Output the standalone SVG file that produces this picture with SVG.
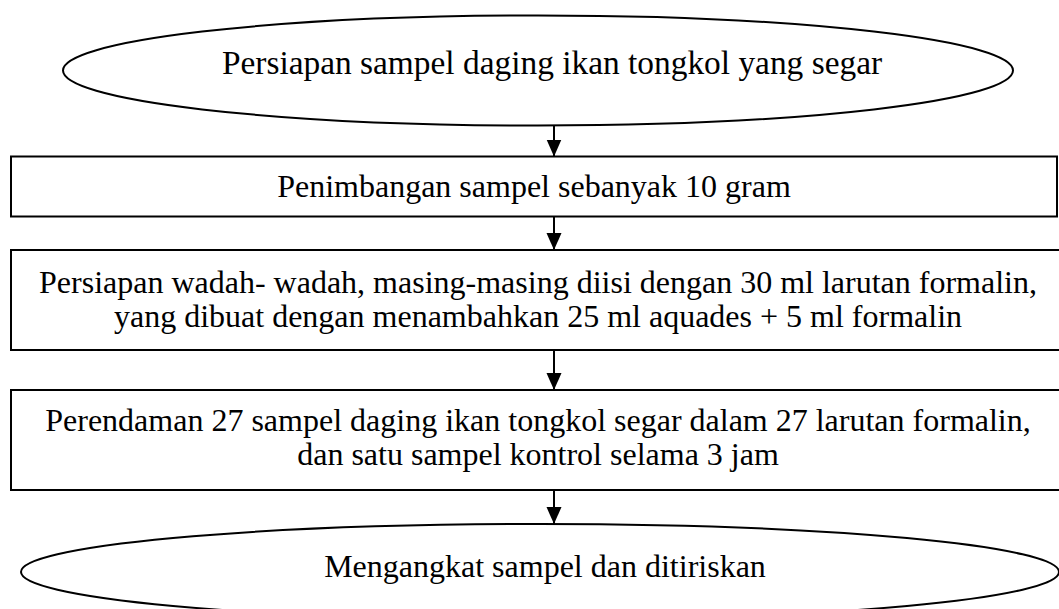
<svg xmlns="http://www.w3.org/2000/svg" width="1059" height="609" viewBox="0 0 1059 609">
<style>
.shape{fill:#fff;stroke:#000;stroke-width:2}
.lbl{font-family:"Liberation Serif","Times New Roman",serif;font-size:32px;fill:#000;text-anchor:middle}
.conn{stroke:#000;stroke-width:2;fill:none}
</style>
<defs>
<marker id="arr" markerWidth="16" markerHeight="17" refX="17" refY="7.5" orient="auto" markerUnits="userSpaceOnUse">
<path d="M0,0 L17,7.5 L0,15 Z" fill="#000"/>
</marker>
</defs>
<rect width="1059" height="609" fill="#fff"/>
<g id="node1">
<ellipse class="shape" cx="538" cy="70.5" rx="475" ry="55"/>
<text class="lbl" x="552" y="74" style="font-size:33.4px">Persiapan sampel daging ikan tongkol yang segar</text>
</g>
<g id="node2">
<rect class="shape" x="11" y="156.5" width="1046" height="60"/>
<text class="lbl" x="534" y="197">Penimbangan sampel sebanyak 10 gram</text>
</g>
<g id="node3">
<rect class="shape" x="11" y="250" width="1060" height="100"/>
<text class="lbl" x="538" y="293">Persiapan wadah- wadah, masing-masing diisi dengan 30 ml larutan formalin,</text>
<text class="lbl" x="538" y="327">yang dibuat dengan menambahkan 25 ml aquades + 5 ml formalin</text>
</g>
<g id="node4">
<rect class="shape" x="11" y="390" width="1060" height="100"/>
<text class="lbl" x="538" y="431">Perendaman 27 sampel daging ikan tongkol segar dalam 27 larutan formalin,</text>
<text class="lbl" x="538" y="465">dan satu sampel kontrol selama 3 jam</text>
</g>
<g id="node5">
<ellipse class="shape" cx="540" cy="572" rx="519" ry="48"/>
<text class="lbl" x="545" y="577">Mengangkat sampel dan ditiriskan</text>
</g>
<g id="connectors">
<line class="conn" x1="554" y1="125.5" x2="554" y2="156.5" marker-end="url(#arr)"/>
<line class="conn" x1="554" y1="216.5" x2="554" y2="250" marker-end="url(#arr)"/>
<line class="conn" x1="554" y1="350" x2="554" y2="390" marker-end="url(#arr)"/>
<line class="conn" x1="554" y1="490" x2="554" y2="524" marker-end="url(#arr)"/>
</g>
</svg>
